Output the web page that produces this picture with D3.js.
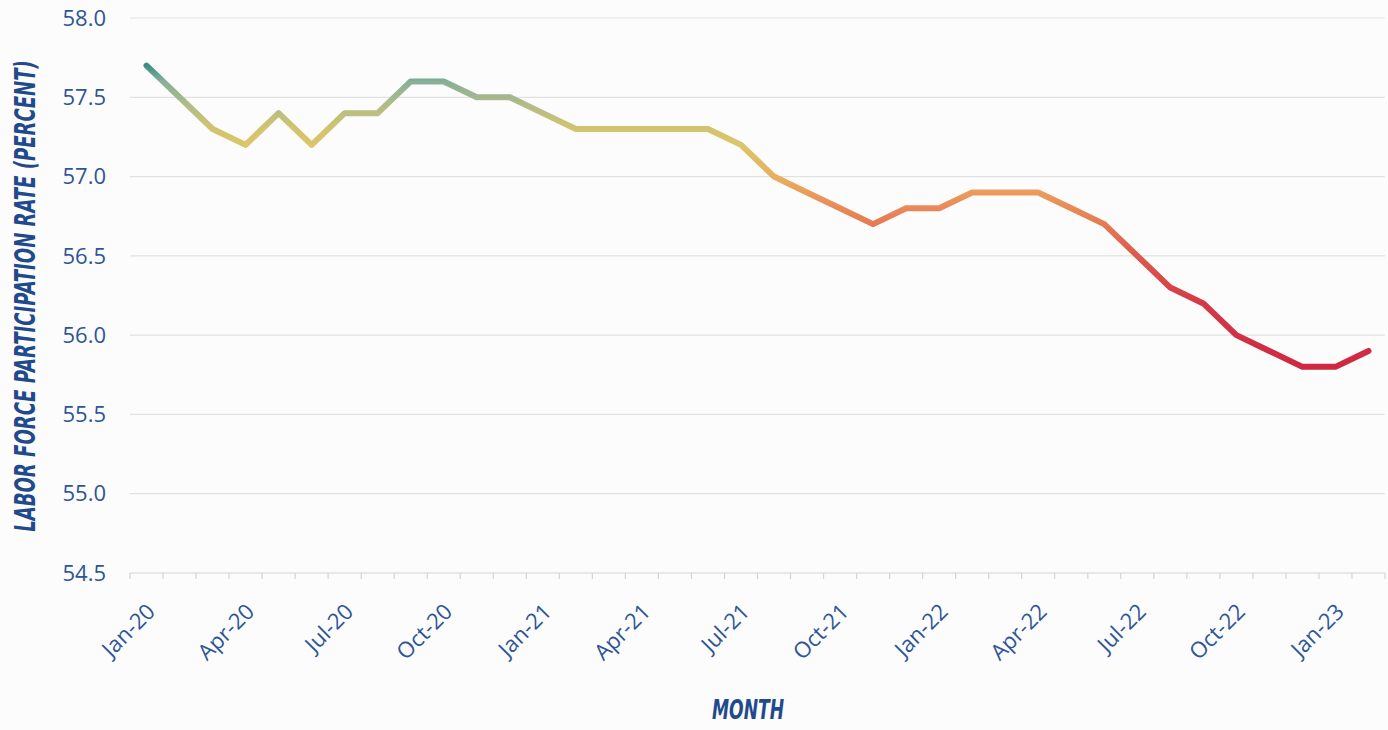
<!DOCTYPE html>
<html>
<head>
<meta charset="utf-8">
<script src="https://cdn.jsdelivr.net/npm/d3@7"></script>
<style>
    html, body { margin: 0; padding: 0; background: #fcfcfc; }
    svg { display: block; }
</style>
</head>
<body>
<div id="app"></div>
<script>
// monthly labor force participation rate, Jan-20 .. Feb-23
const months = [
    'Jan-20', 'Feb-20', 'Mar-20', 'Apr-20', 'May-20', 'Jun-20', 'Jul-20', 'Aug-20', 'Sep-20', 'Oct-20', 'Nov-20', 'Dec-20',
    'Jan-21', 'Feb-21', 'Mar-21', 'Apr-21', 'May-21', 'Jun-21', 'Jul-21', 'Aug-21', 'Sep-21', 'Oct-21', 'Nov-21', 'Dec-21',
    'Jan-22', 'Feb-22', 'Mar-22', 'Apr-22', 'May-22', 'Jun-22', 'Jul-22', 'Aug-22', 'Sep-22', 'Oct-22', 'Nov-22', 'Dec-22',
    'Jan-23', 'Feb-23'
];
const rates = [
    57.7, 57.5, 57.3, 57.2, 57.4, 57.2, 57.4, 57.4, 57.6, 57.6, 57.5, 57.5,
    57.4, 57.3, 57.3, 57.3, 57.3, 57.3, 57.2, 57.0, 56.9, 56.8, 56.7, 56.8,
    56.8, 56.9, 56.9, 56.9, 56.8, 56.7, 56.5, 56.3, 56.2, 56.0, 55.9, 55.8,
    55.8, 55.9
];
const yTicks = [54.5, 55.0, 55.5, 56.0, 56.5, 57.0, 57.5, 58.0];
const xLabels = months.filter((m, i) => i % 3 === 0);

// line colour depends on the value (teal high -> red low)
const colorStops = [
    { v: 57.7, c: '#3b8f82' },
    { v: 57.6, c: '#86b097' },
    { v: 57.45, c: '#b2bc88' },
    { v: 57.3, c: '#d2c46e' },
    { v: 57.2, c: '#dcc56a' },
    { v: 57.0, c: '#e8b05e' },
    { v: 56.9, c: '#ea9c5c' },
    { v: 56.8, c: '#e88a58' },
    { v: 56.5, c: '#dc5a4c' },
    { v: 56.2, c: '#d43a46' },
    { v: 55.8, c: '#cf2842' }
];

const W = 1388, H = 730;
const plotLeft = 130, plotRight = 1385, plotTop = 18, plotBottom = 573;
const blue = '#2d5597', titleBlue = '#1f4a8c';

const svg = d3.select('#app')
    .append('svg')
    .attr('width', W)
    .attr('height', H);

const x = d3.scaleBand()
    .domain(months)
    .range([plotLeft, plotRight])
    .padding(0);

const y = d3.scaleLinear()
    .domain([54.5, 58.0])
    .range([plotBottom, plotTop]);

const cx = m => x(m) + x.bandwidth() / 2;

// gridlines
svg.append('g')
    .selectAll('line')
    .data(yTicks.filter(t => t > 54.5))
    .join('line')
    .attr('x1', plotLeft)
    .attr('x2', plotRight)
    .attr('y1', d => y(d))
    .attr('y2', d => y(d))
    .attr('stroke', '#e1e1e1')
    .attr('stroke-width', 1.2);

// y tick labels
svg.append('g')
    .selectAll('text')
    .data(yTicks)
    .join('text')
    .attr('x', 106)
    .attr('y', d => y(d))
    .attr('dy', '0.35em')
    .attr('text-anchor', 'end')
    .attr('font-family', 'Open Sans')
    .attr('font-size', 22)
    .attr('fill', blue)
    .text(d => d.toFixed(1));

// x axis line with month boundary ticks
const xAxis = svg.append('g');
xAxis.append('line')
    .attr('x1', plotLeft)
    .attr('x2', plotRight)
    .attr('y1', plotBottom)
    .attr('y2', plotBottom)
    .attr('stroke', '#d4d4d4')
    .attr('stroke-width', 1.2);

xAxis.selectAll('line.tick')
    .data(months.map(m => x(m)).concat([plotRight]))
    .join('line')
    .attr('class', 'tick')
    .attr('x1', d => d)
    .attr('x2', d => d)
    .attr('y1', plotBottom)
    .attr('y2', plotBottom + 6)
    .attr('stroke', '#d4d4d4')
    .attr('stroke-width', 1.2);

xAxis.selectAll('text')
    .data(xLabels)
    .join('text')
    .attr('transform', d => `translate(${cx(d) + 10},${plotBottom + 40}) rotate(-45)`)
    .attr('text-anchor', 'end')
    .attr('font-family', 'Open Sans')
    .attr('font-size', 22)
    .attr('fill', blue)
    .text(d => d);

// value gradient along y
const grad = svg.append('defs')
    .append('linearGradient')
    .attr('id', 'rateGrad')
    .attr('gradientUnits', 'userSpaceOnUse')
    .attr('x1', 0)
    .attr('x2', 0)
    .attr('y1', y(colorStops[0].v))
    .attr('y2', y(colorStops[colorStops.length - 1].v));

const span = y(colorStops[colorStops.length - 1].v) - y(colorStops[0].v);
grad.selectAll('stop')
    .data(colorStops)
    .join('stop')
    .attr('offset', d => (y(d.v) - y(colorStops[0].v)) / span)
    .attr('stop-color', d => d.c);

const line = d3.line()
    .x((d, i) => cx(months[i]))
    .y(d => y(d));

svg.append('path')
    .datum(rates)
    .attr('d', line)
    .attr('fill', 'none')
    .attr('stroke', 'url(#rateGrad)')
    .attr('stroke-width', 6)
    .attr('stroke-linejoin', 'round')
    .attr('stroke-linecap', 'round');

// condensed italic titles: fit the width with font-size, then stretch glyph height
function condensedTitle(label, tx, ty, rot, wantLen, capPx) {
    const g = svg.append('g')
        .attr('transform', `translate(${tx},${ty}) rotate(${rot})`);
    const t = g.append('text')
        .attr('text-anchor', 'middle')
        .attr('font-family', 'DejaVu Sans Condensed, DejaVu Sans')
        .attr('font-weight', 'bold')
        .attr('font-style', 'italic')
        .attr('font-size', 20)
        .attr('fill', titleBlue)
        .text(label);
    const len = t.node().getComputedTextLength();
    const fs = 20 * wantLen / len;
    t.attr('font-size', fs);
    const sy = capPx / (fs * 0.73);
    t.attr('transform', `scale(1,${sy})`);
}

condensedTitle('LABOR FORCE PARTICIPATION RATE (PERCENT)', 35, 296, -90, 472, 21);
condensedTitle('MONTH', 748, 719, 0, 72, 20);
</script>
</body>
</html>
